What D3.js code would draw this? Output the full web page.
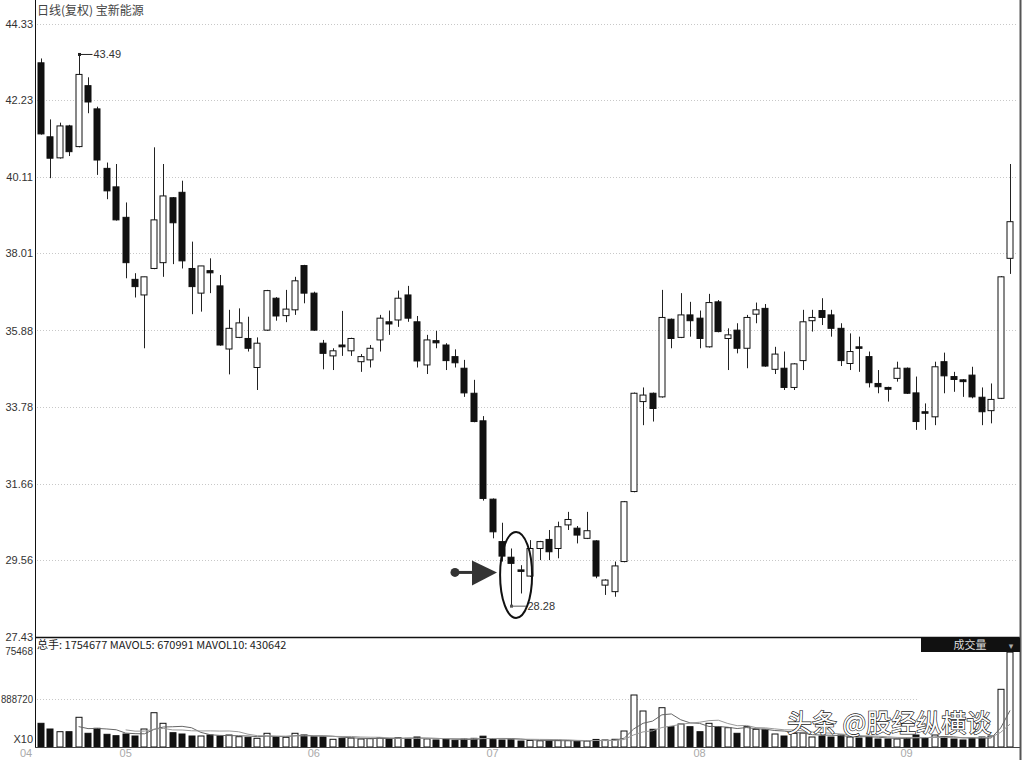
<!DOCTYPE html>
<html>
<head>
<meta charset="utf-8">
<script src="https://cdn.jsdelivr.net/npm/d3@7"></script>
<style>
body { margin: 0; background: #fff; }
svg { display: block; font-family: "Liberation Sans", "DejaVu Sans", sans-serif; }
</style>
</head>
<body>
<svg id="chart" width="1023" height="760"></svg>
<script>
// daily bars
var opens = [43.26,41.22,40.64,41.52,40.95,42.63,41.99,40.35,39.84,39.00,
	37.29,36.86,37.59,37.75,39.54,39.69,37.59,36.91,37.53,37.11,
	35.37,35.69,35.66,34.86,35.89,36.77,36.29,36.45,37.67,36.91,
	35.53,35.18,35.48,35.32,35.02,35.07,35.62,36.12,36.17,36.86,
	36.12,34.93,35.60,35.48,35.16,34.84,34.15,33.39,31.23,30.06,
	29.63,29.28,29.11,29.87,30.12,29.87,30.52,30.43,30.15,30.08,
	28.86,28.68,29.51,31.44,33.92,34.15,34.05,36.19,35.69,36.31,
	36.22,35.43,36.67,35.66,35.89,35.39,36.33,36.49,34.81,34.84,
	34.31,35.05,36.15,36.43,36.31,35.94,34.97,35.43,35.16,34.42,
	34.31,34.56,34.84,34.16,33.64,33.50,35.02,34.61,34.52,34.65,
	34.04,33.67,34.01,37.87];
var highs = [43.38,41.70,41.61,41.55,43.49,42.86,42.05,40.51,40.47,39.41,
	37.46,37.36,40.93,40.47,39.56,40.01,38.33,37.66,37.87,37.41,
	36.45,36.49,36.26,35.69,37.00,36.80,37.00,37.36,37.69,36.95,
	35.62,35.39,36.42,35.68,35.23,35.48,36.31,36.43,36.98,37.11,
	36.28,35.76,35.87,35.53,35.36,35.07,34.52,33.52,31.25,30.58,
	29.87,29.41,30.10,30.08,30.38,30.61,30.88,30.49,30.88,30.10,
	29.02,29.51,31.18,34.17,34.31,34.17,37.00,36.21,36.91,36.67,
	36.43,36.89,36.72,35.94,36.08,36.31,36.65,36.61,35.43,35.30,
	34.98,36.45,36.45,36.77,36.45,36.08,35.80,35.71,35.30,34.79,
	34.33,35.02,34.86,34.61,33.87,35.02,35.27,34.74,34.54,34.88,
	34.31,34.42,37.38,40.47];
var lows = [41.28,40.08,40.62,40.69,40.93,41.87,40.17,39.50,38.91,37.32,
	36.79,35.39,37.57,37.36,37.71,37.59,36.33,36.40,36.91,35.46,
	34.67,35.67,35.30,34.24,35.87,36.15,36.11,36.31,36.63,35.87,
	34.81,34.79,35.18,35.18,34.74,34.86,35.30,35.76,35.98,36.12,
	34.86,34.68,35.39,34.79,34.86,34.05,33.35,31.19,30.15,29.51,
	28.28,28.63,29.09,29.55,29.55,29.60,30.38,30.01,30.13,29.05,
	28.59,28.54,29.49,31.42,33.27,33.37,34.03,35.39,35.67,35.71,
	35.39,35.41,35.83,34.79,35.25,34.84,36.08,34.88,34.68,34.24,
	34.24,34.79,35.85,36.03,35.71,34.90,34.79,34.74,34.31,34.15,
	33.92,34.47,34.13,33.14,33.14,33.27,34.15,34.19,34.05,34.01,
	33.27,33.32,33.99,37.44];
var closes = [41.30,40.63,41.52,40.81,42.94,42.18,40.58,39.73,38.93,37.75,
	37.09,37.36,38.93,39.59,38.85,37.80,37.09,37.66,37.47,35.48,
	35.94,36.09,35.39,35.53,36.98,36.28,36.47,37.25,36.91,35.89,
	35.25,35.32,35.43,35.66,35.16,35.39,36.22,36.06,36.77,36.22,
	35.04,35.62,35.54,35.05,34.99,34.16,33.37,31.25,30.33,29.66,
	29.46,29.26,29.87,30.06,29.78,30.47,30.67,30.24,30.36,29.11,
	29.00,29.39,31.16,34.15,34.10,33.73,36.24,35.66,36.31,36.15,
	35.66,36.65,35.85,35.76,35.39,36.24,36.45,34.90,35.23,34.31,
	34.96,36.12,36.24,36.24,35.94,35.05,35.30,35.39,34.44,34.33,
	34.26,34.84,34.15,33.37,33.60,34.88,34.63,34.53,34.47,34.05,
	33.64,33.98,37.36,38.88];
var vols = [438300,332900,283000,283000,549300,253400,345800,234900,209000,240400,
	203400,332900,634300,438300,264500,240400,203400,203400,221900,203400,
	221900,190500,179400,160900,253400,190500,179400,253400,221900,190500,
	190500,142400,160900,166000,148000,155000,170000,150000,172000,160000,
	185000,150000,130000,140000,125000,150000,160000,200000,150000,130000,
	145000,110000,120000,115000,110000,125000,118000,105000,112000,140000,
	129500,142400,295900,961700,665800,327300,726800,375400,425400,375400,
	283000,438000,375400,357000,253400,375400,327300,327300,240400,203400,
	253400,259000,185000,203000,185000,222000,185000,166000,185000,148000,
	148000,148000,166000,222000,166000,222000,185000,148000,130000,166000,
	185000,203000,1067100,1754677];

var monthIdx = [0, 9, 29, 48, 70, 92];
var monthLabels = ["04", "05", "06", "07", "08", "09"];
var priceTicks = [44.33, 42.23, 40.11, 38.01, 35.88, 33.78, 31.66, 29.56, 27.43];
var volTicks = [1775468, 888720];
var volTickLabels = ["75468", "888720"];

var svg = d3.select('#chart');
var left = 35, right = 1020;
var x = d3.scaleLinear().domain([0, opens.length - 1]).range([41, 1010]);
var y = d3.scaleLinear().domain([27.43, 44.33]).range([637, 24]);
var vy = d3.scaleLinear().domain([0, 1775468]).range([747, 651]);
var bw = 7;

// grid lines
priceTicks.slice(0, 8).forEach(function(t){
	svg.append('line')
		.attr('x1', left + 2).attr('x2', right - 4)
		.attr('y1', Math.round(y(t)) + 0.5).attr('y2', Math.round(y(t)) + 0.5)
		.attr('stroke', '#c8c8c8').attr('stroke-dasharray', '1,2');
});
svg.append('line')
	.attr('x1', left + 2).attr('x2', 918)
	.attr('y1', Math.round(vy(volTicks[1])) + 0.5).attr('y2', Math.round(vy(volTicks[1])) + 0.5)
	.attr('stroke', '#c8c8c8').attr('stroke-dasharray', '1,2');

// price axis labels
svg.selectAll('.plab').data(priceTicks).enter().append('text')
	.attr('x', 33).attr('y', function(d){ return y(d) + 4; })
	.attr('text-anchor', 'end').attr('font-size', 11).attr('fill', '#333')
	.text(function(d){ return d.toFixed(2); });

// volume axis labels
svg.selectAll('.vlab').data(volTicks).enter().append('text')
	.attr('x', 33).attr('y', function(d){ return vy(d) + 4; })
	.attr('text-anchor', 'end').attr('font-size', 10).attr('fill', '#333')
	.attr('textLength', function(d, i){ return i === 1 ? 32 : null; })
	.attr('lengthAdjust', 'spacingAndGlyphs')
	.text(function(d, i){ return volTickLabels[i]; });
svg.append('text').attr('x', 33).attr('y', 743).attr('text-anchor', 'end')
	.attr('font-size', 11).attr('fill', '#333').text('X10');

// candles
var idx = d3.range(opens.length);
svg.selectAll('.wick').data(idx).enter().append('line')
	.attr('x1', function(i){ return Math.round(x(i)) + 0.5; })
	.attr('x2', function(i){ return Math.round(x(i)) + 0.5; })
	.attr('y1', function(i){ return y(highs[i]); })
	.attr('y2', function(i){ return y(lows[i]); })
	.attr('stroke', '#222').attr('stroke-width', 1);
svg.selectAll('.body').data(idx).enter().append('rect')
	.attr('x', function(i){ return Math.round(x(i)) - 3; })
	.attr('width', bw - 1)
	.attr('y', function(i){ return y(Math.max(opens[i], closes[i])); })
	.attr('height', function(i){ return Math.max(1.5, Math.abs(y(opens[i]) - y(closes[i]))); })
	.attr('fill', function(i){ return closes[i] >= opens[i] ? '#fff' : '#111'; })
	.attr('stroke', '#111').attr('stroke-width', 1);

// volume bars
svg.selectAll('.vbar').data(idx).enter().append('rect')
	.attr('x', function(i){ return Math.round(x(i)) - 3; })
	.attr('width', bw - 1)
	.attr('y', function(i){ return vy(vols[i]); })
	.attr('height', function(i){ return 747 - vy(vols[i]); })
	.attr('fill', function(i){ return closes[i] >= opens[i] ? '#fff' : '#111'; })
	.attr('stroke', '#111').attr('stroke-width', 1);

// volume moving averages
function mavol(n){
	return idx.filter(function(i){ return i >= n - 1; }).map(function(i){
		return [i, d3.mean(vols.slice(i - n + 1, i + 1))];
	});
}
var maLine = d3.line().x(function(d){ return x(d[0]); }).y(function(d){ return vy(d[1]); });
svg.append('path').attr('d', maLine(mavol(5))).attr('fill', 'none')
	.attr('stroke', '#666').attr('stroke-width', 1);
svg.append('path').attr('d', maLine(mavol(10))).attr('fill', 'none')
	.attr('stroke', '#999').attr('stroke-width', 1);

// frame
svg.append('line').attr('x1', left + 0.5).attr('x2', left + 0.5).attr('y1', 0).attr('y2', 748)
	.attr('stroke', '#111');
svg.append('line').attr('x1', left).attr('x2', right).attr('y1', 637.5).attr('y2', 637.5)
	.attr('stroke', '#111').attr('stroke-width', 1.5);
svg.append('line').attr('x1', left).attr('x2', right).attr('y1', 747.5).attr('y2', 747.5)
	.attr('stroke', '#444');
svg.append('line').attr('x1', right + 0.5).attr('x2', right + 0.5).attr('y1', 0).attr('y2', 760)
	.attr('stroke', '#555').attr('stroke-width', 2);

// month labels
svg.selectAll('.mlab').data(monthIdx).enter().append('text')
	.attr('x', function(d, i){ return i === 0 ? left - 9 : x(d); })
	.attr('y', 757).attr('text-anchor', 'middle')
	.attr('font-size', 11).attr('fill', '#aaa')
	.text(function(d, i){ return monthLabels[i]; });

// titles
svg.append('text').attr('x', 37).attr('y', 15)
	.attr('font-family', '"Noto Sans CJK SC", sans-serif').attr('font-size', 12).attr('fill', '#444')
	.text('日线(复权)  宝新能源');
svg.append('text').attr('x', 37).attr('y', 649)
	.attr('font-family', '"Noto Sans CJK SC", sans-serif').attr('font-size', 11).attr('fill', '#222')
	.text('总手: 1754677 MAVOL5: 670991 MAVOL10: 430642');

svg.append('rect').attr('x', 921).attr('y', 638).attr('width', 99).attr('height', 14).attr('fill', '#111');
svg.append('text').attr('x', 970).attr('y', 649).attr('text-anchor', 'middle')
	.attr('font-family', '"Noto Sans CJK SC", sans-serif').attr('font-size', 11).attr('fill', '#ddd')
	.text('成交量');
svg.append('text').attr('x', 1011).attr('y', 649).attr('text-anchor', 'middle')
	.attr('font-size', 9).attr('fill', '#aaa').text('▾');

// high / low annotations
var hiI = d3.maxIndex(highs), loI = d3.minIndex(lows);
var hx = Math.round(x(hiI)) + 0.5, hy = y(highs[hiI]);
svg.append('rect').attr('x', hx - 1.5).attr('y', hy - 1.5).attr('width', 3).attr('height', 3).attr('fill', '#222');
svg.append('line').attr('x1', hx).attr('x2', hx + 13).attr('y1', hy).attr('y2', hy).attr('stroke', '#222');
svg.append('text').attr('x', hx + 14).attr('y', hy + 4).attr('font-size', 11).attr('fill', '#333')
	.text(highs[hiI].toFixed(2));
var lx = Math.round(x(loI)) + 0.5, ly = y(lows[loI]);
svg.append('rect').attr('x', lx - 1.5).attr('y', ly - 1.5).attr('width', 3).attr('height', 3).attr('fill', '#555');
svg.append('line').attr('x1', lx).attr('x2', lx + 15).attr('y1', ly).attr('y2', ly).attr('stroke', '#555');
svg.append('text').attr('x', lx + 16).attr('y', ly + 4).attr('font-size', 11).attr('fill', '#333')
	.text(lows[loI].toFixed(2));

// ellipse round the bottom and the pointer
svg.append('ellipse')
	.attr('cx', (x(loI) + x(loI + 1)) / 2).attr('cy', y(29.14))
	.attr('rx', 16).attr('ry', 43)
	.attr('fill', 'none').attr('stroke', '#111').attr('stroke-width', 2);
var tipX = x(loI - 1) - 5, tipY = y(29.21);
svg.append('line').attr('x1', tipX - 42).attr('x2', tipX - 24).attr('y1', tipY).attr('y2', tipY)
	.attr('stroke', '#333').attr('stroke-width', 3);
svg.append('circle').attr('cx', tipX - 42).attr('cy', tipY).attr('r', 4.5).attr('fill', '#333');
svg.append('path')
	.attr('d', 'M' + (tipX - 25) + ',' + (tipY - 12) + 'L' + tipX + ',' + tipY + 'L' + (tipX - 25) + ',' + (tipY + 13) + 'Z')
	.attr('fill', '#333');

// watermark
svg.append('text').attr('x', 787).attr('y', 732)
	.attr('font-family', '"Noto Sans CJK SC", sans-serif').attr('font-size', 25)
	.attr('fill', '#fff').attr('stroke', '#222').attr('stroke-width', 1.3)
	.attr('paint-order', 'stroke')
	.text('头条 @股经纵横谈');
</script>
</body>
</html>
